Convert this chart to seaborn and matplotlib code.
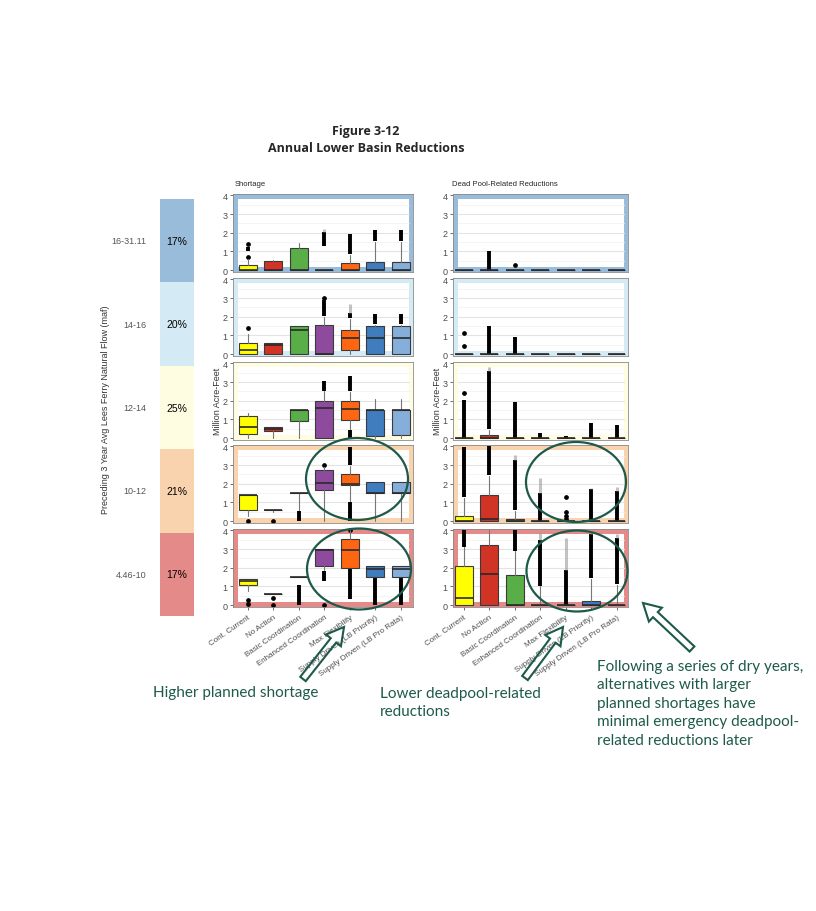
import numpy as np
import matplotlib
matplotlib.use('Agg')
import matplotlib.pyplot as plt
from matplotlib.colors import ListedColormap
from matplotlib.patches import Rectangle, Ellipse, FancyArrow
import seaborn as sns

# ---------- data ----------
alternatives = ['Cont. Current', 'No Action', 'Basic Coordination', 'Enhanced Coordination',
                'Max Flexibility', 'Supply Driven (LB Priority)', 'Supply Driven (LB Pro Rata)']
alt_colors = ['#FFFF00', '#D13324', '#5AAE47', '#8E4B9E', '#FF6611', '#3F7DBF', '#86AEDB']

flow_bins = ['16-31.11', '14-16', '12-14', '10-12', '4.46-10']
flow_share = ['17%', '20%', '25%', '21%', '17%']
bin_colors = ['#9ABCDB', '#D4EAF4', '#FFFDE1', '#F9D3AD', '#E48A88']

# Shortage boxplot stats (rows = flow bins, cols = alternatives), maf
short_q1 = [[0, 0, 0, 0, 0, 0, 0],
            [0, 0, 0, 0, 0.22, 0, 0],
            [0.22, 0.38, 0.92, 0, 0.95, 0.1, 0.15],
            [0.6, 0.6, 1.5, 1.65, 1.92, 1.5, 1.5],
            [1.1, 0.6, 1.5, 2.08, 2.0, 1.5, 1.5]]
short_med = [[0, 0, 0, 0, 0, 0, 0],
             [0.22, 0.5, 1.3, 0, 0.85, 0.85, 0.85],
             [0.62, 0.5, 1.5, 1.6, 1.55, 1.5, 1.5],
             [1.4, 0.6, 1.5, 2.05, 2.0, 1.5, 1.5],
             [1.28, 0.6, 1.5, 2.95, 2.97, 1.92, 1.92]]
short_q3 = [[0.27, 0.5, 1.2, 0.02, 0.4, 0.45, 0.42],
            [0.62, 0.6, 1.5, 1.55, 1.3, 1.5, 1.5],
            [1.2, 0.62, 1.5, 2.0, 2.0, 1.5, 1.5],
            [1.4, 0.6, 1.5, 2.75, 2.55, 2.1, 2.1],
            [1.4, 0.6, 1.5, 3.0, 3.55, 2.1, 2.1]]
short_lo = [[0, 0, 0, 0, 0, 0, 0],
            [0, 0, 0, 0, 0, 0, 0],
            [0, 0, 0, 0, 0.5, 0, 0],
            [0.25, 0.5, 0.6, 0, 1.1, 0, 0],
            [0.75, 0.6, 1.5, 1.9, 2.0, 1.5, 1.5]]
short_hi = [[0.6, 0.55, 1.45, 0.02, 0.8, 1.5, 1.5],
            [1.1, 0.6, 1.5, 2.0, 1.9, 1.55, 1.55],
            [1.35, 0.62, 1.5, 2.5, 2.45, 2.1, 2.1],
            [1.4, 0.6, 1.5, 2.9, 2.95, 2.1, 2.1],
            [1.4, 0.6, 1.5, 3.0, 4.0, 2.1, 2.1]]
# dense outlier runs (row, alternative, low, high), faint runs, single outliers
short_dense = [(0, 0, 1.0, 1.25), (0, 3, 1.3, 2.05), (0, 4, 0.85, 1.95), (0, 5, 1.55, 2.15),
               (0, 6, 1.55, 2.15), (1, 3, 2.05, 2.9), (1, 4, 1.95, 2.2), (1, 5, 1.6, 2.15),
               (1, 6, 1.6, 2.15), (2, 3, 2.55, 3.05), (2, 4, 2.5, 3.35), (2, 4, 0.0, 0.45),
               (3, 2, 0.0, 0.55), (3, 4, 0.0, 1.05), (3, 4, 3.0, 3.95), (4, 2, 0.0, 1.1),
               (4, 3, 1.3, 1.85), (4, 4, 0.35, 1.95), (4, 5, 0.0, 1.45), (4, 6, 0.0, 1.45)]
short_faint = [(0, 3, 2.05, 2.22), (1, 4, 2.2, 2.7), (1, 3, 2.9, 3.0)]
short_points = [(0, 0, 0.72), (0, 0, 1.4), (1, 0, 1.38), (1, 3, 3.0), (3, 0, 0.02), (3, 1, 0.02),
                (3, 3, 3.0), (4, 0, 0.25), (4, 0, 0.05), (4, 1, 0.4), (4, 1, 0.02), (4, 3, 0.02),
                (4, 4, 4.0)]

# Dead pool-related reductions
dead_q1 = [[0] * 7 for _ in range(5)]
dead_med = [[0, 0, 0, 0, 0, 0, 0],
            [0, 0, 0, 0, 0, 0, 0],
            [0, 0, 0, 0, 0, 0, 0],
            [0, 0.1, 0, 0, 0, 0, 0],
            [0.4, 1.65, 0, 0, 0, 0, 0]]
dead_q3 = [[0, 0, 0, 0, 0, 0, 0],
           [0, 0, 0, 0, 0, 0, 0],
           [0, 0.15, 0, 0, 0, 0, 0],
           [0.3, 1.4, 0.12, 0.02, 0, 0.02, 0.02],
           [2.08, 3.24, 1.62, 0.02, 0.02, 0.2, 0.02]]
dead_lo = [[0] * 7 for _ in range(5)]
dead_hi = [[0, 0, 0, 0, 0, 0, 0],
           [0, 0, 0, 0, 0, 0, 0],
           [0, 0.45, 0, 0, 0, 0, 0],
           [1.25, 2.4, 0.55, 0, 0, 0, 0],
           [3.1, 4.0, 2.9, 1.0, 0, 1.4, 1.1]]
dead_dense = [(0, 1, 0.0, 1.05), (1, 1, 0.0, 1.5), (1, 2, 0.0, 0.9),
              (2, 0, 0.0, 2.05), (2, 1, 0.5, 3.6), (2, 2, 0.0, 1.95), (2, 3, 0.0, 0.3),
              (2, 4, 0.0, 0.1), (2, 5, 0.0, 0.8), (2, 6, 0.0, 0.7),
              (3, 0, 1.3, 3.95), (3, 1, 2.45, 4.0), (3, 2, 0.6, 3.3), (3, 3, 0.0, 1.5),
              (3, 5, 0.0, 1.7), (3, 6, 0.0, 1.6),
              (4, 0, 3.1, 4.0), (4, 2, 2.9, 4.0), (4, 3, 1.05, 3.5), (4, 4, 0.0, 1.9),
              (4, 5, 1.45, 3.8), (4, 6, 1.15, 3.6)]
dead_faint = [(2, 1, 3.6, 3.8), (3, 2, 3.3, 3.55), (3, 3, 1.5, 2.3), (3, 5, 1.7, 1.8),
              (3, 6, 1.6, 1.85), (4, 3, 3.5, 3.9), (4, 4, 1.9, 3.6), (4, 5, 3.8, 3.95),
              (4, 6, 3.6, 3.8)]
dead_points = [(0, 2, 0.3), (1, 0, 1.15), (1, 0, 0.45), (2, 0, 2.4), (3, 4, 0.1), (3, 4, 0.3),
               (3, 4, 0.5), (3, 4, 1.3)]

# ---------- figure ----------
sns.set_theme(style='white')
plt.rcParams['font.family'] = ['Liberation Sans', 'DejaVu Sans']

W, H = 816, 912
fig = plt.figure(figsize=(W / 100, H / 100), dpi=100)
fig.patch.set_facecolor('white')
green = '#1D5A4A'
tick_gray = '#4D4D4D'


def px_axes(x0, y0, x1, y1):
    return fig.add_axes([x0 / W, 1 - y1 / H, (x1 - x0) / W, (y1 - y0) / H])


# left colour strip with shares
ax_strip = px_axes(160, 200, 194, 617)
sns.heatmap(np.arange(5).reshape(5, 1), ax=ax_strip, cmap=ListedColormap(bin_colors),
            annot=np.array(flow_share).reshape(5, 1), fmt='', cbar=False,
            xticklabels=False, yticklabels=flow_bins,
            annot_kws=dict(fontsize=7.5, color='black'))
ax_strip.tick_params(axis='y', length=0, pad=10, labelsize=6.5, labelcolor='#555555')
ax_strip.set_yticklabels(flow_bins, rotation=0)


def draw_panel(ax, r, q1, med, q3, lo, hi, dense, faint, points, xlim, bottom):
    ax.set_facecolor(bin_colors[r])
    wpx = ax.get_position().width * W
    hpx = ax.get_position().height * H
    dx, dy = 4.5 / wpx, 5.0 / hpx
    ax.add_patch(Rectangle((dx, dy), 1 - 2 * dx, 1 - 2 * dy, transform=ax.transAxes,
                           facecolor='white', edgecolor='none', zorder=0.2))
    for g in [0.5, 1.5, 2.5, 3.5]:
        ax.axhline(g, xmin=dx, xmax=1 - dx, color='#F2F2F2', lw=0.6, zorder=0.3)
    for g in [1, 2, 3]:
        ax.axhline(g, xmin=dx, xmax=1 - dx, color='#E3E3E3', lw=0.8, zorder=0.3)

    for (rr, c, a, b) in dense:
        if rr == r:
            ax.vlines(c, a, b, color='black', lw=2.8, zorder=1.5)
    for (rr, c, a, b) in faint:
        if rr == r:
            ax.vlines(c, a, b, color='#9A9A9A', lw=2.2, alpha=0.6, zorder=1.5)
    for (rr, c, v) in points:
        if rr == r:
            ax.plot(c, v, 'o', color='black', ms=2.4, zorder=1.6, clip_on=False)

    stats = [dict(q1=q1[r][i], med=med[r][i], q3=q3[r][i], whislo=lo[r][i],
                  whishi=hi[r][i], fliers=[]) for i in range(7)]
    bp = ax.bxp(stats, positions=range(7), widths=0.7, patch_artist=True, showcaps=False,
                showfliers=False,
                boxprops=dict(edgecolor='#3A3A3A', linewidth=0.8),
                medianprops=dict(color='#2A2A2A', linewidth=1.2),
                whiskerprops=dict(color='#777777', linewidth=0.8))
    for patch, col in zip(bp['boxes'], alt_colors):
        patch.set_facecolor(col)
        patch.set_zorder(2)

    ax.set_xlim(*xlim)
    ax.set_ylim(-0.1, 4.08)
    ax.set_yticks([0, 1, 2, 3, 4])
    ax.set_yticklabels(['0', '1', '2', '3', '4'])
    ax.tick_params(axis='y', left=True, length=2.5, width=0.6, color='#555555',
                   labelsize=6.5, labelcolor=tick_gray, pad=1.5)
    for s in ax.spines.values():
        s.set_color('#8A8A8A')
        s.set_linewidth(0.6)
    if bottom:
        ax.set_xticks(range(7))
        ax.set_xticklabels(alternatives, rotation=35, ha='right', rotation_mode='anchor',
                           fontsize=5.8, color=tick_gray)
        ax.tick_params(axis='x', bottom=True, length=2.5, width=0.6, color='#555555', pad=2)
    else:
        ax.set_xticks([])


row_top = [195, 279, 363, 446, 530]
for r in range(5):
    y0 = row_top[r]
    ax_s = px_axes(233, y0, 413, y0 + 78)
    draw_panel(ax_s, r, short_q1, short_med, short_q3, short_lo, short_hi,
               short_dense, short_faint, short_points, (-0.58, 6.48), r == 4)
    ax_d = px_axes(453, y0, 628, y0 + 78)
    draw_panel(ax_d, r, dead_q1, dead_med, dead_q3, dead_lo, dead_hi,
               dead_dense, dead_faint, dead_points, (-0.42, 6.45), r == 4)

# ---------- overlay for titles and annotations ----------
ov = fig.add_axes([0, 0, 1, 1])
ov.set_xlim(0, W)
ov.set_ylim(H, 0)
ov.axis('off')
ov.patch.set_alpha(0)

ov.text(366, 131, 'Figure 3-12', ha='center', va='center', fontsize=9,
        fontweight='bold', family=['Open Sans', 'DejaVu Sans'])
ov.text(366, 149, 'Annual Lower Basin Reductions', ha='center', va='center', fontsize=9,
        fontweight='bold', family=['Open Sans', 'DejaVu Sans'])
ov.text(235, 184, 'Shortage', ha='left', va='center', fontsize=5.5)
ov.text(452, 184, 'Dead Pool-Related Reductions', ha='left', va='center', fontsize=5.5)
ov.text(217, 401, 'Million Acre-Feet', rotation=90, ha='center', va='center', fontsize=6.5,
        color='#333333')
ov.text(437, 401, 'Million Acre-Feet', rotation=90, ha='center', va='center', fontsize=6.5,
        color='#333333')
ov.text(106, 410, 'Preceding 3 Year Avg Lees Ferry Natural Flow (maf)', rotation=90,
        ha='center', va='center', fontsize=6.5, color='#333333')

for (cx, cy, ew, eh) in [(357, 480, 102, 82), (359, 570, 104, 81),
                         (576, 483, 100, 80), (577, 572, 101, 81)]:
    ov.add_patch(Ellipse((cx, cy), ew, eh, fill=False, edgecolor=green, lw=1.6, zorder=5))

for (x0, y0, x1, y1) in [(303, 680, 344, 628), (525, 679, 563, 628), (692, 650, 643, 604)]:
    ov.add_patch(FancyArrow(x0, y0, x1 - x0, y1 - y0, width=7, head_width=19, head_length=17,
                            length_includes_head=True, fill=False, edgecolor=green, lw=1.5,
                            zorder=5))

hand = dict(color=green, fontsize=11, family=['Lato', 'DejaVu Sans'], ha='left', va='top',
            linespacing=1.4)
ov.text(153, 686, 'Higher planned shortage', **hand)
ov.text(380, 687, 'Lower deadpool-related\nreductions', **hand)
ov.text(597, 660, 'Following a series of dry years,\nalternatives with larger\n'
        'planned shortages have\nminimal emergency deadpool-\nrelated reductions later', **hand)

plt.savefig('out.png', dpi=100)
